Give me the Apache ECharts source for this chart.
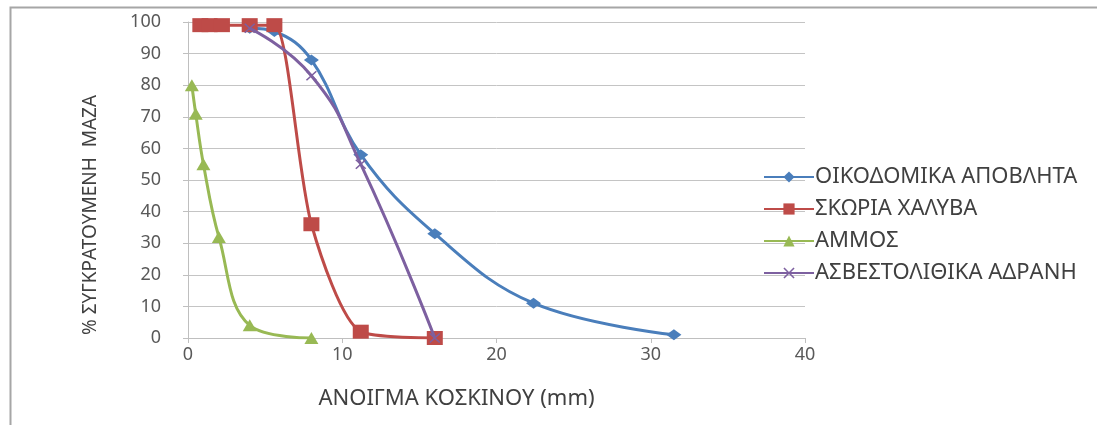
<!DOCTYPE html>
<html>
<head>
<meta charset="utf-8">
<script src="https://cdn.jsdelivr.net/npm/echarts@6/dist/echarts.min.js"></script>
<style>
  html, body { margin: 0; padding: 0; background: #ffffff; }
  #chart { width: 1097px; height: 425px; }
</style>
</head>
<body>
<div id="chart"></div>
<script>
// Sieve analysis: % retained mass vs sieve opening (mm)
const seriesNames = ['ΟΙΚΟΔΟΜΙΚΑ ΑΠΟΒΛΗΤΑ', 'ΣΚΩΡΙΑ ΧΑΛΥΒΑ', 'ΑΜΜΟΣ', 'ΑΣΒΕΣΤΟΛΙΘΙΚΑ ΑΔΡΑΝΗ'];

const demolitionX = [4, 5.6, 8, 11.2, 16, 22.4, 31.5];
const demolitionY = [98, 97, 88, 58, 33, 11, 1];

const slagX = [0.8, 1.4, 2.2, 4, 5.6, 8, 11.2, 16];
const slagY = [99, 99, 99, 99, 99, 36, 2, 0];

const sandX = [0.25, 0.5, 1, 2, 4, 8];
const sandY = [80, 71, 55, 32, 4, 0];

const limestoneX = [4, 8, 11.2, 16];
const limestoneY = [98, 83, 55, 0];

const xTicks = [0, 10, 20, 30, 40];
const yTicks = [0, 10, 20, 30, 40, 50, 60, 70, 80, 90, 100];

const pairs = (xs, ys) => xs.map((x, i) => [x, ys[i]]);

const colors = ['#4A7EBB', '#BE4B48', '#98B954', '#7D60A0'];
const crossPath = 'path://M0,1 L1,0 L5,4 L9,0 L10,1 L6,5 L10,9 L9,10 L5,6 L1,10 L0,9 L4,5 Z';

const FONT = 'Noto Sans';
const chart = echarts.init(document.getElementById('chart'), null, { renderer: 'canvas' });

function lineSeries(idx, data, symbol, size, smooth) {
  return {
    name: seriesNames[idx],
    type: 'line',
    data: data,
    smooth: smooth,
    symbol: symbol,
    symbolSize: size,
    showAllSymbol: true,
    lineStyle: { width: 3, color: colors[idx] },
    itemStyle: { color: colors[idx] },
    z: 2 + idx
  };
}

chart.setOption({
  animation: false,
  backgroundColor: '#ffffff',
  color: colors,
  grid: { left: 188, right: 292, top: 22, bottom: 87 },
  legend: {
    orient: 'vertical',
    left: 758,
    top: 161,
    itemWidth: 50,
    itemHeight: 14,
    itemGap: 10,
    textStyle: { fontFamily: FONT, fontSize: 22, color: '#404040', lineHeight: 22, padding: [0, 0, 0, -4] },
    data: seriesNames
  },
  xAxis: {
    type: 'value',
    min: 0, max: 40, interval: 10,
    name: 'ΑΝΟΙΓΜΑ ΚΟΣΚΙΝΟΥ (mm)',
    nameLocation: 'middle',
    nameGap: 50,
    nameTextStyle: { fontFamily: FONT, fontSize: 22, color: '#404040', padding: [0, 80, 0, 0] },
    axisLine: { show: true, lineStyle: { color: '#bfbfbf', width: 1 } },
    axisTick: { show: true, length: 5, lineStyle: { color: '#bfbfbf' } },
    axisLabel: {
      fontFamily: FONT, fontSize: 18, color: '#595959', margin: 8,
      formatter: v => xTicks.includes(v) ? String(v) : ''
    },
    splitLine: { show: false }
  },
  yAxis: {
    type: 'value',
    min: 0, max: 100, interval: 10,
    name: '% ΣΥΓΚΡΑΤΟΥΜΕΝΗ  ΜΑΖΑ',
    nameLocation: 'middle',
    nameGap: 88,
    nameTextStyle: { fontFamily: FONT, fontSize: 19, color: '#404040', padding: [0, 70, 0, 0] },
    axisLine: { show: true, lineStyle: { color: '#bfbfbf', width: 1 } },
    axisTick: { show: true, length: 5, lineStyle: { color: '#bfbfbf' } },
    axisLabel: {
      fontFamily: FONT, fontSize: 18, color: '#595959', margin: 27,
      formatter: v => yTicks.includes(v) ? String(v) : ''
    },
    splitLine: { show: true, lineStyle: { color: '#c4c4c4', width: 1 } }
  },
  graphic: [
    {
      type: 'polyline',
      shape: { points: [[10.5, 425], [10.5, 7.5], [1097, 7.5]] },
      style: { stroke: '#a6a6a6', lineWidth: 2, fill: null },
      silent: true
    }
  ],
  series: [
    lineSeries(0, pairs(demolitionX, demolitionY), 'diamond', [15, 11], 0.4),
    lineSeries(1, pairs(slagX, slagY), 'rect', [16, 14], 0.25),
    lineSeries(2, pairs(sandX, sandY), 'triangle', [14, 12], 0.4),
    lineSeries(3, pairs(limestoneX, limestoneY), crossPath, [11, 10], 0.5)
  ]
});
</script>
</body>
</html>
